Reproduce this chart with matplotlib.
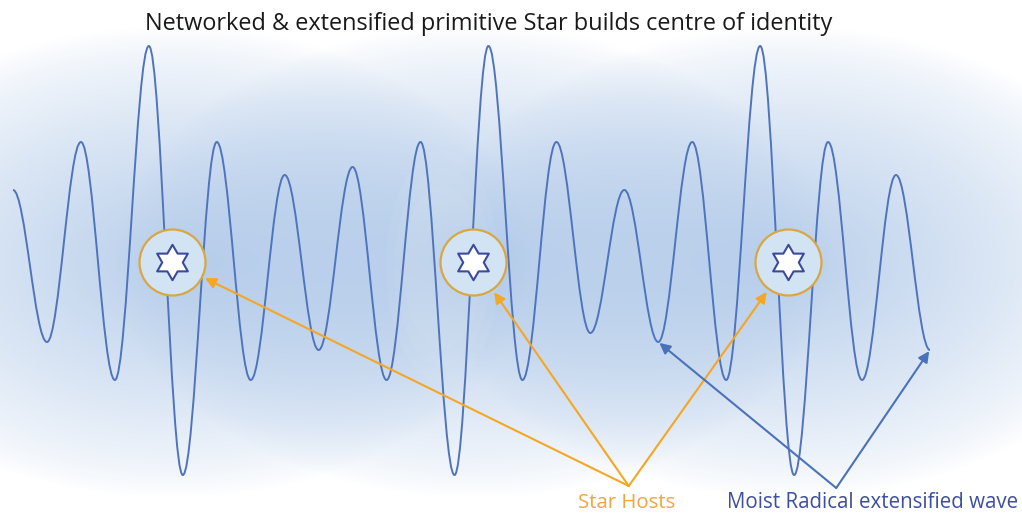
import numpy as np
import matplotlib.pyplot as plt
from matplotlib.path import Path
from matplotlib.patches import PathPatch, Ellipse

# Wave extrema (alternating peak / trough), one per half-period step.
wave_amp = [0.72, -0.80, 1.20, -1.18, 2.16, -2.13, 1.20, -1.18, 0.87, -0.88,
            0.95, -1.18, 1.20, -2.13, 2.16, -1.18, 1.20, -0.71, 0.72, -0.80,
            1.20, -1.18, 2.16, -2.13, 1.20, -1.18, 0.87, -0.88]
wave_step = list(range(len(wave_amp)))

# Star hosts sit on the baseline of the wave.
host_step = [4.68, 13.55, 22.82]
host_amp = [0.0, 0.0, 0.0]

# Wave points the blue arrows point at (step index).
wave_targets = [19, 27]

title = "Networked & extensified primitive Star builds centre of identity"
host_label = "Star Hosts"
wave_label = "Moist Radical extensified wave"
host_label_pos = (18.08, -2.41)
wave_label_pos = (25.32, -2.41)
host_origin = (18.13, -2.24)
wave_origin = (24.24, -2.26)

W, H = 1022, 513
XLIM = (-0.383, 29.71)
YLIM = (-2.51, 2.62)

WAVE_C = "#4f74bd"
ORANGE = "#f5a623"
BLUE_ARROW = "#4a72b8"
TEXT_BLUE = "#3d4f9f"
GOLD = "#d8a743"

plt.rcParams["font.family"] = ["Open Sans", "DejaVu Sans"]

fig = plt.figure(figsize=(W / 100, H / 100), dpi=100)
ax = fig.add_axes([0, 0, 1, 1])
ax.set_xlim(*XLIM)
ax.set_ylim(*YLIM)
ax.axis("off")

# Background: soft blue radial glows centred on each host.
px_x = W / (XLIM[1] - XLIM[0])
px_y = H / (YLIM[1] - YLIM[0])
gx = np.linspace(XLIM[0], XLIM[1], W)
gy = np.linspace(YLIM[1], YLIM[0], H)
GX, GY = np.meshgrid(gx, gy)
keep = np.ones_like(GX)
for hx, hy in zip(host_step, host_amp):
    d = np.sqrt(((GX - hx) * px_x / 360) ** 2 + ((GY - hy) * px_y / 235) ** 2)
    t = np.clip(1 - d, 0, 1) ** 0.75
    keep *= 1 - 0.72 * t
glow = 1 - keep
white = np.array([1.0, 1.0, 1.0])
blue = np.array([160, 190, 228]) / 255
img = white[None, None, :] - glow[..., None] * (white - blue)[None, None, :]
ax.imshow(img, extent=(XLIM[0], XLIM[1], YLIM[0], YLIM[1]), aspect="auto",
          origin="upper", zorder=0)

# faint lighter tall halo beside the middle host (layered for a soft edge)
for scale, alpha in [(1.0, 0.05), (0.85, 0.05), (0.7, 0.05)]:
    ax.add_patch(Ellipse((host_step[1] - 0.9, host_amp[1] - 0.05),
                         113 * scale / px_x, 233 * scale / px_y,
                         facecolor="white", edgecolor="none",
                         alpha=alpha, zorder=1))

# Wave: half-cosine-like cubic segments between successive extrema.
k = 0.3634
verts = [(wave_step[0], wave_amp[0])]
codes = [Path.MOVETO]
for i in range(len(wave_step) - 1):
    x0, y0 = wave_step[i], wave_amp[i]
    x1, y1 = wave_step[i + 1], wave_amp[i + 1]
    dx = x1 - x0
    verts += [(x0 + k * dx, y0), (x1 - k * dx, y1), (x1, y1)]
    codes += [Path.CURVE4] * 3
ax.add_patch(PathPatch(Path(verts, codes), facecolor="none", edgecolor=WAVE_C,
                       lw=1.4, zorder=3))

# Star hosts: circle with six-pointed star.
ang_out = np.deg2rad(90 + 60 * np.arange(6))
ang_in = ang_out + np.deg2rad(30)
r_in = 0.58
star_v = []
for a_o, a_i in zip(ang_out, ang_in):
    star_v.append((np.cos(a_o), np.sin(a_o)))
    star_v.append((r_in * np.cos(a_i), r_in * np.sin(a_i)))
star_v.append(star_v[0])
star_marker = Path(star_v, closed=True)

ax.scatter(host_step, host_amp, s=47.5 ** 2, facecolor="#d2e4f4",
           edgecolor=GOLD, linewidths=1.6, zorder=5)
ax.scatter(host_step, host_amp, s=25.5 ** 2, marker=star_marker, facecolor="white",
           edgecolor="#3b4a9c", linewidths=1.5, zorder=6)

# Arrows from labels to hosts / wave.
for hx, hy in zip(host_step, host_amp):
    ax.annotate("", xy=(hx, hy), xytext=host_origin,
                arrowprops=dict(arrowstyle="-|>", color=ORANGE, lw=1.5,
                                mutation_scale=16, shrinkA=0, shrinkB=26.5),
                zorder=7)
for ti in wave_targets:
    ax.annotate("", xy=(wave_step[ti], wave_amp[ti]), xytext=wave_origin,
                arrowprops=dict(arrowstyle="-|>", color=BLUE_ARROW, lw=1.5,
                                mutation_scale=16, shrinkA=0, shrinkB=1),
                zorder=7)

ax.text(*host_label_pos, host_label, color="#f0a540", fontsize=14.7,
        ha="center", va="center", zorder=8)
ax.text(*wave_label_pos, wave_label, color=TEXT_BLUE, fontsize=14.8,
        ha="center", va="center", zorder=8)

fig.text(489 / W, 1 - 24 / H, title, fontsize=16.9, color="#1a1a1a",
         ha="center", va="center")

fig.savefig("out.png", dpi=100)
